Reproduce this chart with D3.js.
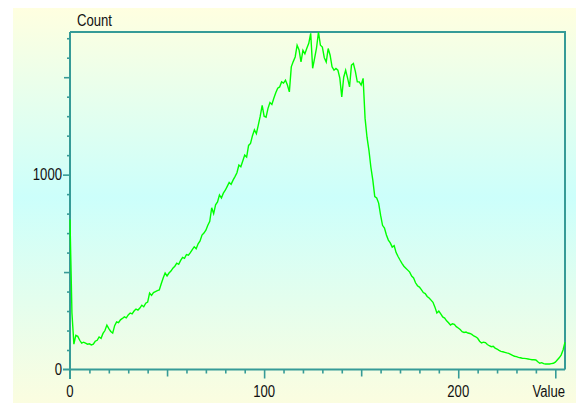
<!DOCTYPE html>
<html>
<head>
<meta charset="utf-8">
<script src="https://cdnjs.cloudflare.com/ajax/libs/d3/7.8.5/d3.min.js"></script>
<style>
    body { margin: 0; background: #fff; }
    svg { display: block; }
    text { font-family: "Liberation Sans", Arial, sans-serif; font-size: 16px; fill: #111; }
</style>
</head>
<body>
<div id="chart"></div>
<script>
//// ============================================ DATA ============================================ ////

// histogram counts, one per grey value 0..255
var counts = [
    770, 290, 130, 175, 170, 150, 135, 140, 135, 130,
    132, 126, 130, 145, 150, 167, 160, 185, 200, 228,
    210, 195, 187, 225, 244, 240, 255, 262, 270, 265,
    280, 290, 285, 300, 310, 305, 315, 330, 322, 340,
    346, 392, 380, 395, 400, 405, 408, 440, 470, 495,
    480, 495, 505, 520, 530, 546, 540, 560, 575, 570,
    590, 587, 600, 615, 630, 620, 645, 660, 690, 700,
    715, 740, 760, 830, 800, 845, 860, 896, 880, 905,
    920, 940, 960, 950, 972, 990, 1010, 1049, 1040, 1070,
    1100, 1090, 1150, 1160, 1200, 1230, 1210, 1254, 1300, 1356,
    1300, 1295, 1340, 1370, 1360, 1392, 1420, 1444, 1450, 1476,
    1470, 1485, 1460, 1425, 1553, 1580, 1604, 1664, 1640, 1578,
    1638, 1620, 1649, 1674, 1725, 1546, 1597, 1650, 1732, 1664,
    1655, 1600, 1578, 1647, 1613, 1553, 1536, 1545, 1536, 1495,
    1399, 1500, 1536, 1495, 1450, 1562, 1570, 1530, 1476, 1476,
    1460, 1494, 1290, 1192, 1125, 1038, 972, 887, 880, 854,
    792, 740, 726, 690, 664, 650, 628, 635, 600, 580,
    562, 545, 530, 520, 510, 500, 480, 470, 445, 430,
    423, 410, 395, 390, 375, 367, 356, 345, 320, 290,
    300, 285, 270, 264, 250, 240, 228, 235, 232, 220,
    213, 205, 194, 190, 192, 187, 185, 180, 172, 168,
    160, 145, 136, 140, 138, 128, 122, 117, 119, 110,
    105, 98, 93, 91, 88, 85, 83, 78, 72, 68,
    66, 62, 60, 58, 57, 56, 54, 52, 50, 50,
    49, 40, 32, 35, 30, 28, 29, 28, 30, 32,
    38, 49, 60, 74, 100, 140
];

var xTickLabels = [0, 100, 200];
var yTickLabels = [0, 1000];
var xTitle = "Value";
var yTitle = "Count";

//// ============================================ LAYOUT ============================================ ////

var width = 576;
var height = 403;
var plotLeft = 70, plotRight = 565, plotTop = 32, plotBottom = 369.5;

var svg = d3.select("#chart").append("svg")
    .attr("width", width)
    .attr("height", height);

var grad = svg.append("defs").append("linearGradient")
    .attr("id", "bg-gradient")
    .attr("x1", "0%").attr("x2", "0%")
    .attr("y1", "0%").attr("y2", "100%");

grad.selectAll("stop")
    .data([{ offset: "0%", color: "#ffffe0" },
           { offset: "48%", color: "#ccfffb" },
           { offset: "100%", color: "#fbfde0" }])
    .enter().append("stop")
    .attr("offset", function(d) { return d.offset; })
    .attr("stop-color", function(d) { return d.color; });

svg.append("rect")
    .attr("x", 13).attr("y", 8)
    .attr("width", width - 13).attr("height", height - 8)
    .style("fill", "url(#bg-gradient)");

var x = d3.scaleLinear()
    .domain([0, counts.length - 1])
    .range([plotLeft, plotRight]);

var y = d3.scaleLinear()
    .domain([0, d3.max(counts)])
    .range([plotBottom, plotTop]);

var axisColor = "#369b97";

//// ============================================ AXES ============================================ ////

var xAxis = svg.append("g")
    .attr("transform", "translate(0," + plotBottom + ")")
    .call(d3.axisBottom(x)
        .tickValues(d3.range(10, 256, 10))
        .tickSizeOuter(0)
        .tickFormat(""));

xAxis.selectAll(".tick line")
    .attr("y2", function(d) {
        if (d % 100 == 0 || d == 250) return 9;
        if (d % 50 == 0) return 7;
        return 4;
    });

var yAxis = svg.append("g")
    .attr("transform", "translate(" + plotLeft + ",0)")
    .call(d3.axisLeft(y)
        .tickValues(d3.range(100, d3.max(counts), 100))
        .tickSizeOuter(0)
        .tickFormat(""));

yAxis.selectAll(".tick line")
    .attr("x2", function(d) {
        if (d % 1000 == 0) return -7;
        if (d % 500 == 0) return -6;
        return -3;
    });

svg.selectAll(".domain").remove();
svg.selectAll(".tick line")
    .attr("stroke", axisColor)
    .attr("stroke-width", 1.6);

// frame and axis lines
svg.append("line")
    .attr("x1", plotLeft).attr("x2", plotLeft)
    .attr("y1", plotTop).attr("y2", plotBottom + 9.5)
    .attr("stroke", axisColor).attr("stroke-width", 2);
svg.append("line")
    .attr("x1", plotLeft - 7).attr("x2", plotRight)
    .attr("y1", plotBottom).attr("y2", plotBottom)
    .attr("stroke", axisColor).attr("stroke-width", 2);
svg.append("line")
    .attr("x1", plotLeft).attr("x2", plotRight + 1)
    .attr("y1", plotTop).attr("y2", plotTop)
    .attr("stroke", axisColor).attr("stroke-width", 2);
svg.append("line")
    .attr("x1", plotRight).attr("x2", plotRight)
    .attr("y1", plotTop).attr("y2", plotBottom)
    .attr("stroke", axisColor).attr("stroke-width", 2);

// tick labels
svg.selectAll(".xlab")
    .data(xTickLabels)
    .enter().append("text")
    .attr("class", "xlab")
    .attr("x", function(d) { return x(d); })
    .attr("y", 397)
    .style("text-anchor", "middle")
    .text(function(d) { return d; });

svg.selectAll(".ylab")
    .data(yTickLabels)
    .enter().append("text")
    .attr("class", "ylab")
    .attr("x", 62)
    .attr("y", function(d) { return y(d); })
    .attr("dy", ".36em")
    .style("text-anchor", "end")
    .text(function(d) { return d; });

svg.append("text")
    .attr("x", plotRight)
    .attr("y", 397)
    .style("text-anchor", "end")
    .text(xTitle);

svg.append("text")
    .attr("x", 77)
    .attr("y", 26)
    .text(yTitle);

// squeeze glyphs to look like the narrow windows font
svg.selectAll("text").each(function() {
    var w = this.getComputedTextLength();
    d3.select(this)
        .attr("textLength", w * 0.82)
        .attr("lengthAdjust", "spacingAndGlyphs");
});

//// ============================================ LINE ============================================ ////

var line = d3.line()
    .x(function(d, i) { return x(i); })
    .y(function(d) { return y(d); });

svg.append("path")
    .datum(counts)
    .attr("d", line)
    .attr("fill", "none")
    .attr("stroke", "#00ff00")
    .attr("stroke-width", 1.4);
</script>
</body>
</html>
